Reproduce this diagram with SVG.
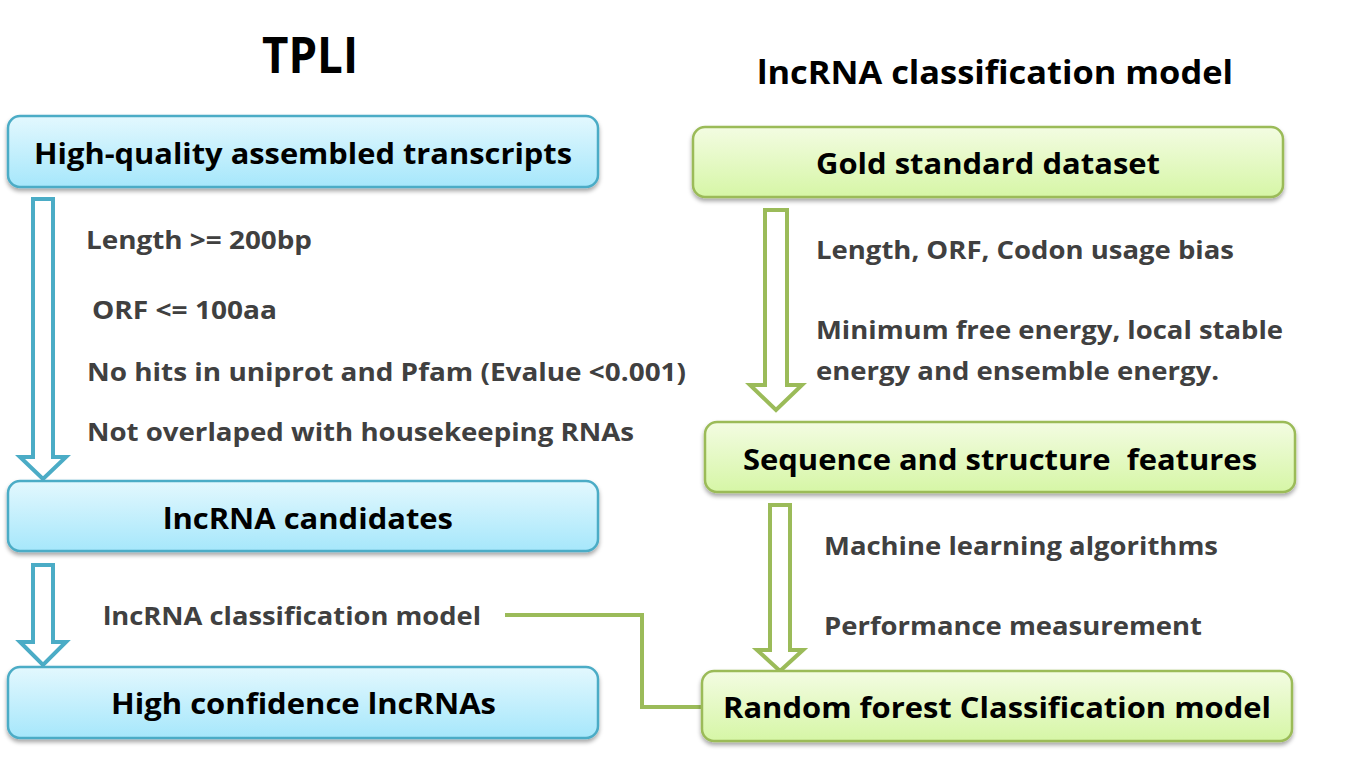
<svg xmlns="http://www.w3.org/2000/svg" width="1366" height="762" viewBox="0 0 1366 762">
<defs>
<linearGradient id="gBlue" x1="0" y1="0" x2="0" y2="1">
<stop offset="0" stop-color="#e3f8fe"/>
<stop offset="1" stop-color="#a6e7fb"/>
</linearGradient>
<linearGradient id="gGreen" x1="0" y1="0" x2="0" y2="1">
<stop offset="0" stop-color="#f3fce2"/>
<stop offset="1" stop-color="#d6f6a6"/>
</linearGradient>
<filter id="sh" x="-5%" y="-20%" width="110%" height="150%">
<feDropShadow dx="0" dy="3" stdDeviation="2.2" flood-color="#000" flood-opacity="0.35"/>
</filter>
<style>
.bb{fill:url(#gBlue);stroke:#4bacc6;stroke-width:2.5;filter:url(#sh)}
.gb{fill:url(#gGreen);stroke:#9bbb59;stroke-width:2.5;filter:url(#sh)}
.ba{fill:#fff;stroke:#4bacc6;stroke-width:4;stroke-linejoin:miter}
.ga{fill:#fff;stroke:#9bbb59;stroke-width:4;stroke-linejoin:miter}
.lab{font-family:"Open Sans","Noto Sans","Liberation Sans",sans-serif;font-weight:bold;font-size:29px;fill:#000}
.ann{font-family:"Open Sans","Noto Sans","Liberation Sans",sans-serif;font-weight:bold;font-size:25px;fill:#404040}
.tit{font-family:"Open Sans","Noto Sans","Liberation Sans",sans-serif;font-weight:bold;fill:#000}
.con{fill:none;stroke:#9bbb59;stroke-width:4}
</style>
</defs>
<rect width="1366" height="762" fill="#fff"/>

<g id="titles">
<text class="tit" x="262" y="73" font-size="50" textLength="96" lengthAdjust="spacingAndGlyphs">TPLI</text>
<text class="tit" x="757" y="84" font-size="32" textLength="476" lengthAdjust="spacingAndGlyphs">lncRNA classification model</text>
</g>

<g id="connectors">
<polygon class="ba" points="33,199 53,199 53,457 66,457 43,479 20,457 33,457"/>
<polygon class="ba" points="33,565 53,565 53,642 66,642 43,665 20,642 33,642"/>
<polygon class="ga" points="765,210 787,210 787,385 802,385 776,410 750,385 765,385"/>
<polygon class="ga" points="770,505 790,505 790,650 803,650 780,671 757,650 770,650"/>
<polyline class="con" points="505,615 642,615 642,707 702,707"/>
</g>

<g id="n-hq">
<rect class="bb" x="8" y="116" width="590" height="71" rx="12"/>
<text class="lab" x="34" y="164" textLength="538" lengthAdjust="spacingAndGlyphs">High-quality assembled transcripts</text>
</g>
<g id="n-cand">
<rect class="bb" x="8" y="481" width="590" height="70" rx="12"/>
<text class="lab" x="163" y="529" textLength="290" lengthAdjust="spacingAndGlyphs">lncRNA candidates</text>
</g>
<g id="n-hc">
<rect class="bb" x="8" y="667" width="590" height="71" rx="12"/>
<text class="lab" x="111" y="714" textLength="385" lengthAdjust="spacingAndGlyphs">High confidence lncRNAs</text>
</g>
<g id="n-gold">
<rect class="gb" x="693" y="127" width="590" height="70" rx="12"/>
<text class="lab" x="816" y="174" textLength="344" lengthAdjust="spacingAndGlyphs">Gold standard dataset</text>
</g>
<g id="n-feat">
<rect class="gb" x="705" y="422" width="590" height="70" rx="12"/>
<text class="lab" x="743" y="470" textLength="514" lengthAdjust="spacingAndGlyphs" xml:space="preserve">Sequence and structure  features</text>
</g>
<g id="n-rf">
<rect class="gb" x="702" y="671" width="590" height="70" rx="12"/>
<text class="lab" x="723" y="718" textLength="548" lengthAdjust="spacingAndGlyphs">Random forest Classification model</text>
</g>

<g id="annotations">
<text class="ann" x="86" y="249" textLength="226" lengthAdjust="spacingAndGlyphs">Length &gt;= 200bp</text>
<text class="ann" x="92" y="319" textLength="185" lengthAdjust="spacingAndGlyphs">ORF &lt;= 100aa</text>
<text class="ann" x="87" y="381" textLength="599" lengthAdjust="spacingAndGlyphs">No hits in uniprot and Pfam (Evalue &lt;0.001)</text>
<text class="ann" x="87" y="441" textLength="547" lengthAdjust="spacingAndGlyphs">Not overlaped with housekeeping RNAs</text>
<text class="ann" x="103" y="625" textLength="378" lengthAdjust="spacingAndGlyphs">lncRNA classification model</text>
<text class="ann" x="816" y="259" textLength="418" lengthAdjust="spacingAndGlyphs">Length, ORF, Codon usage bias</text>
<text class="ann" x="816" y="339" textLength="467" lengthAdjust="spacingAndGlyphs">Minimum free energy, local stable</text>
<text class="ann" x="816" y="380" textLength="403" lengthAdjust="spacingAndGlyphs">energy and ensemble energy.</text>
<text class="ann" x="824" y="555" textLength="394" lengthAdjust="spacingAndGlyphs">Machine learning algorithms</text>
<text class="ann" x="824" y="635" textLength="378" lengthAdjust="spacingAndGlyphs">Performance measurement</text>
</g>
</svg>
